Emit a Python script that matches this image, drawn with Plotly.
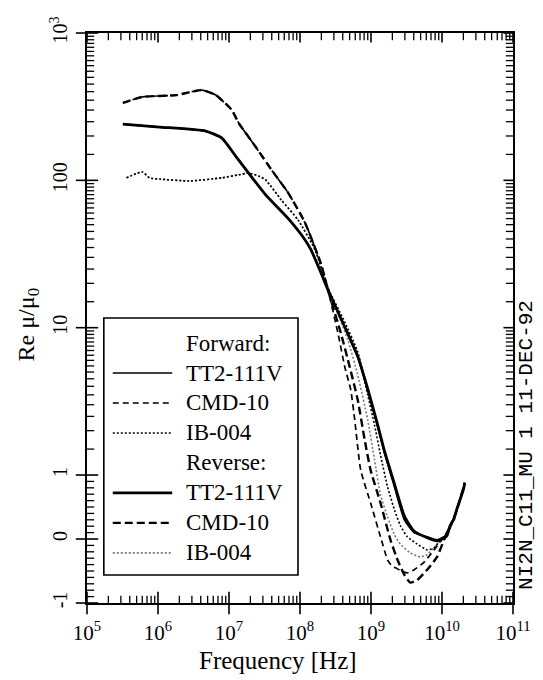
import numpy as np
import plotly.graph_objects as go

# ---------------------------------------------------------------------------
# Measured real permeability Re(mu)/mu0 versus frequency, forward and reverse
# sweeps for three ferrite samples.
# ---------------------------------------------------------------------------
tt2_fwd_freq = [3.2e5, 1.05e6, 4.7e6, 7.9e6, 1.24e7, 1.89e7, 3.26e7, 6.84e7, 1.18e8,
                1.43e8, 1.98e8, 2.48e8, 4.28e8, 6.5e8, 8.98e8, 1.24e9, 1.55e9, 2.14e9,
                2.95e9, 4.06e9, 6.18e9, 8.51e9, 1.17e10, 1.29e10, 1.47e10, 1.62e10,
                1.78e10, 2.03e10, 2.09e10]
tt2_fwd_mu = [241, 230, 216, 194, 146, 112, 80, 55, 39.4,
              33.7, 23.5, 18.0, 10.1, 6.3, 3.78, 2.12, 1.41, 0.815,
              0.30, 0.097, 0.035, -0.013, 0.065, 0.19, 0.33, 0.456,
              0.61, 0.815, 0.878]

tt2_rev_freq = [3.2e5, 1.05e6, 4.7e6, 7.9e6, 1.24e7, 1.89e7, 3.26e7, 6.84e7, 1.18e8,
                1.43e8, 1.98e8, 2.48e8, 4.28e8, 6.5e8, 8.98e8, 1.24e9, 1.55e9, 2.14e9,
                2.95e9, 4.06e9, 6.18e9, 8.51e9, 1.17e10, 1.29e10, 1.47e10, 1.62e10,
                1.78e10, 2.03e10, 2.09e10]
tt2_rev_mu = [241, 230, 216, 194, 146, 112, 80, 55, 39.4,
              33.7, 23.5, 18.0, 10.1, 6.4, 3.85, 2.2, 1.45, 0.86,
              0.36, 0.12, 0.02, -0.03, 0.05, 0.2, 0.31, 0.47,
              0.6, 0.80, 0.88]

cmd_fwd_freq = [3.2e5, 6.0e5, 1.8e6, 4.2e6, 6.5e6, 1.09e7, 1.37e7, 2.37e7, 3.96e7,
                6.84e7, 1.18e8, 1.98e8, 2.48e8, 3.42e8, 4.28e8, 5.19e8, 5.9e8, 7.16e8,
                9.87e8, 1.36e9, 1.71e9, 2.0e9, 2.21e9, 2.59e9, 3.25e9, 4.06e9, 5.61e9,
                7.73e9, 1.07e10, 1.29e10, 1.47e10, 1.62e10, 1.78e10, 2.03e10, 2.09e10]
cmd_fwd_mu = [335, 368, 379, 410, 379, 301, 245, 169, 118,
              82, 51.4, 27, 18.0, 9.2, 5.4, 3.78, 2.37, 1.08,
              0.565, 0.035, -0.325, -0.43, -0.45, -0.49, -0.53, -0.48, -0.36,
              -0.17, 0.035, 0.19, 0.33, 0.456, 0.61, 0.815, 0.878]

cmd_rev_freq = [3.2e5, 6.0e5, 1.8e6, 4.2e6, 6.5e6, 1.09e7, 1.37e7, 2.37e7, 3.96e7,
                6.84e7, 1.18e8, 1.98e8, 2.48e8, 3.76e8, 5.02e8, 6.5e8, 8.15e8, 9.87e8,
                1.36e9, 1.88e9, 2.36e9, 2.95e9, 3.57e9, 4.48e9, 6.18e9, 8.51e9, 1.07e10,
                1.29e10, 1.47e10, 1.62e10, 1.78e10, 2.03e10, 2.09e10]
cmd_rev_mu = [335, 368, 379, 410, 379, 301, 245, 169, 118,
              82, 51.4, 27, 18.0, 9.2, 5.4, 3.24, 1.73, 1.08,
              0.565, -0.013, -0.325, -0.56, -0.68, -0.64, -0.48, -0.28, -0.013,
              0.175, 0.33, 0.456, 0.61, 0.815, 0.878]

ib_fwd_freq = [3.6e5, 6.0e5, 7.6e5, 1.05e6, 2.75e6, 7.9e6, 1.37e7, 1.89e7, 2.61e7,
               3.26e7, 5.46e7, 9.4e7, 1.63e8, 2.48e8, 4.28e8, 6.5e8, 8.98e8, 1.12e9,
               1.36e9, 1.71e9, 2.14e9, 2.59e9, 3.25e9, 4.48e9, 6.18e9, 7.73e9, 9.37e9,
               1.17e10, 1.29e10, 1.47e10, 1.62e10, 1.78e10, 2.03e10, 2.09e10]
ib_fwd_mu = [104, 114, 104, 102, 99, 104, 109, 112, 107,
             101, 73.6, 53.8, 33.7, 18.6, 10.9, 6.86, 3.5, 2.19,
             1.37, 0.815, 0.456, 0.21, 0.035, -0.08, -0.17, -0.14, -0.03,
             0.065, 0.19, 0.33, 0.456, 0.61, 0.815, 0.878]

ib_rev_freq = [3.6e5, 6.0e5, 7.6e5, 1.05e6, 2.75e6, 7.9e6, 1.37e7, 1.89e7, 2.61e7,
               3.26e7, 5.46e7, 9.4e7, 1.63e8, 2.48e8, 4.71e8, 6.5e8, 8.98e8, 1.12e9,
               1.36e9, 1.71e9, 2.14e9, 2.59e9, 3.57e9, 4.93e9, 6.18e9, 8.51e9, 1.07e10,
               1.29e10, 1.47e10, 1.62e10, 1.78e10, 2.03e10, 2.09e10]
ib_rev_mu = [104, 114, 104, 102, 99, 104, 109, 112, 107,
             101, 73.6, 53.8, 33.7, 18.6, 8.26, 4.79, 2.37, 1.27,
             0.69, 0.346, 0.065, -0.08, -0.216, -0.28, -0.246, -0.08, 0.035,
             0.19, 0.33, 0.456, 0.61, 0.815, 0.878]

# Axis tick definitions
x_tick_exponents = [5, 6, 7, 8, 9, 10, 11]
y_tick_values = [1000, 100, 10, 1, 0, -1]
y_tick_labels = ["10<sup>3</sup>", "100", "10", "1", "0", "-1"]

legend_headers = ["Forward:", "Reverse:"]
sample_names = ["TT2-111V", "CMD-10", "IB-004"]

SERIF = "Liberation Serif"
LN10 = np.log(10.0)
X_LOG_RANGE = (5.0, 11.0)


def mu_axis(mu):
    """Log10 above 1, continued linearly (matching slope) below 1."""
    mu = np.asarray(mu, dtype=float)
    return np.where(mu >= 1, np.log10(np.clip(mu, 1e-12, None)), (mu - 1.0) / LN10)


# line styles: (width, dash, colour)
styles = {
    "tt2_fwd": (1.7, "solid", "black"),
    "cmd_fwd": (1.7, "6px,4px", "black"),
    "ib_fwd": (1.6, "2px,2px", "black"),
    "tt2_rev": (2.8, "solid", "black"),
    "cmd_rev": (2.4, "8px,4px", "black"),
    "ib_rev": (1.6, "2px,2px", "#7a7a7a"),
}

series = [
    ("ib_rev", "Reverse IB-004", ib_rev_freq, ib_rev_mu),
    ("cmd_rev", "Reverse CMD-10", cmd_rev_freq, cmd_rev_mu),
    ("tt2_rev", "Reverse TT2-111V", tt2_rev_freq, tt2_rev_mu),
    ("ib_fwd", "Forward IB-004", ib_fwd_freq, ib_fwd_mu),
    ("cmd_fwd", "Forward CMD-10", cmd_fwd_freq, cmd_fwd_mu),
    ("tt2_fwd", "Forward TT2-111V", tt2_fwd_freq, tt2_fwd_mu),
]

fig = go.Figure()
for key, name, f, mu in series:
    w, dash, col = styles[key]
    fig.add_trace(go.Scatter(
        x=f, y=mu_axis(mu), name=name, mode="lines",
        line=dict(color=col, width=w, dash=dash, shape="spline", smoothing=0.5),
        showlegend=False, hoverinfo="skip",
    ))

# tick positions
x_tickvals = [10.0 ** e for e in x_tick_exponents]
x_ticktext = [f"10<sup>{e}</sup>" for e in x_tick_exponents]
minor_x = [m * 10.0 ** e for e in range(5, 11) for m in range(2, 10)]

y_tickvals = [float(v) for v in mu_axis(y_tick_values)]
y_range = [float(mu_axis(-1)), 3.0]
minor_y_mu = [m * 10.0 ** e for e in range(0, 3) for m in np.arange(1.5, 10.0, 0.5)]
minor_y_mu += [round(v, 1) for v in np.arange(-0.9, 1.0, 0.1) if abs(v) > 1e-9]
minor_y = [float(v) for v in mu_axis(minor_y_mu)]

# --- tick marks on all four sides, drawn as line-shaped markers ---
PLOT_W, PLOT_H = 543 - 87 - 26, 680 - 33 - 77
dx_px = (X_LOG_RANGE[1] - X_LOG_RANGE[0]) / PLOT_W      # decades per pixel
dy_px = (y_range[1] - y_range[0]) / PLOT_H               # axis units per pixel
xl, xr = X_LOG_RANGE
yb, yt = y_range


def tick_marks(xs, ys, symbol, length, width):
    fig.add_trace(go.Scatter(
        x=xs, y=ys, mode="markers", cliponaxis=False, showlegend=False,
        hoverinfo="skip",
        marker=dict(symbol=symbol, size=length, color="black",
                    line=dict(color="black", width=width)),
    ))


MAJ, MIN = 16, 6
# bottom: majors cross the frame, minors point inward
tick_marks(x_tickvals, [yb] * len(x_tickvals), "line-ns", MAJ, 1.6)
tick_marks(minor_x, [yb + MIN / 2 * dy_px] * len(minor_x), "line-ns", MIN, 1.3)
# top: inward only
tick_marks(x_tickvals, [yt - MAJ / 4 * dy_px] * len(x_tickvals), "line-ns", MAJ / 2, 1.6)
tick_marks(minor_x, [yt - MIN / 2 * dy_px] * len(minor_x), "line-ns", MIN, 1.3)
# left: majors cross the frame, minors inward
tick_marks([10 ** xl] * len(y_tickvals), y_tickvals, "line-ew", MAJ, 1.6)
tick_marks([10 ** (xl + MIN / 2 * dx_px)] * len(minor_y), minor_y, "line-ew", MIN, 1.3)
# right: inward only
tick_marks([10 ** (xr - MAJ / 4 * dx_px)] * len(y_tickvals), y_tickvals, "line-ew", MAJ / 2, 1.6)
tick_marks([10 ** (xr - MIN / 2 * dx_px)] * len(minor_y), minor_y, "line-ew", MIN, 1.3)

frame = dict(showgrid=False, zeroline=False, showline=True, linewidth=2.2,
             linecolor="black", ticks="", mirror=True)

fig.update_layout(
    width=543, height=680,
    margin=dict(l=87, r=26, t=33, b=77),
    paper_bgcolor="white", plot_bgcolor="white",
    xaxis=dict(type="log", range=list(X_LOG_RANGE), tickmode="array", tickvals=x_tickvals,
               ticktext=x_ticktext, ticklabelstandoff=10,
               tickfont=dict(family=SERIF, size=21, color="black"), **frame),
    yaxis=dict(range=y_range, tickmode="array", tickvals=y_tickvals, ticktext=y_tick_labels,
               tickangle=-90, ticklabelstandoff=10,
               tickfont=dict(family=SERIF, size=20, color="black"), **frame),
    showlegend=False,
)

# --- legend box drawn in paper coordinates ---
shapes = [dict(type="rect", xref="paper", yref="paper", x0=0.0395, x1=0.4953,
               y0=0.0491, y1=0.5, line=dict(color="black", width=1.6),
               fillcolor="white", layer="above")]
annotations = []
row_top, row_step = 0.4561, 0.0526
line_x0, line_x1, text_x = 0.0605, 0.200, 0.2279
legend_rows = [(legend_headers[0], None)] + \
    [(n, k) for n, k in zip(sample_names, ["tt2_fwd", "cmd_fwd", "ib_fwd"])] + \
    [(legend_headers[1], None)] + \
    [(n, k) for n, k in zip(sample_names, ["tt2_rev", "cmd_rev", "ib_rev"])]
for i, (label, key) in enumerate(legend_rows):
    yy = row_top - i * row_step
    if key is not None:
        w, dash, col = styles[key]
        shapes.append(dict(type="line", xref="paper", yref="paper", x0=line_x0, x1=line_x1,
                           y0=yy, y1=yy, line=dict(color=col, width=w, dash=dash),
                           layer="above"))
    annotations.append(dict(text=label, xref="paper", yref="paper", x=text_x, y=yy,
                            xanchor="left", yanchor="middle", showarrow=False,
                            font=dict(family=SERIF, size=23, color="black")))

annotations.append(dict(text="Frequency [Hz]", xref="paper", yref="paper", x=0.449, y=-0.1,
                        xanchor="center", yanchor="middle", showarrow=False,
                        font=dict(family=SERIF, size=25, color="black")))
annotations.append(dict(text="Re \u03bc/\u03bc<sub>0</sub>", xref="paper", yref="paper",
                        x=-0.1395, y=0.488, xanchor="center", yanchor="middle",
                        textangle=-90, showarrow=False,
                        font=dict(family=SERIF, size=24, color="black")))
annotations.append(dict(text="NI2N_C11_MU 1 11-DEC-92", xref="paper", yref="paper",
                        x=1.03, y=0.277, xanchor="center", yanchor="middle",
                        textangle=-90, showarrow=False,
                        font=dict(family="Liberation Mono", size=21, color="black")))

fig.update_layout(shapes=shapes, annotations=annotations)

fig.write_html("out.html")
